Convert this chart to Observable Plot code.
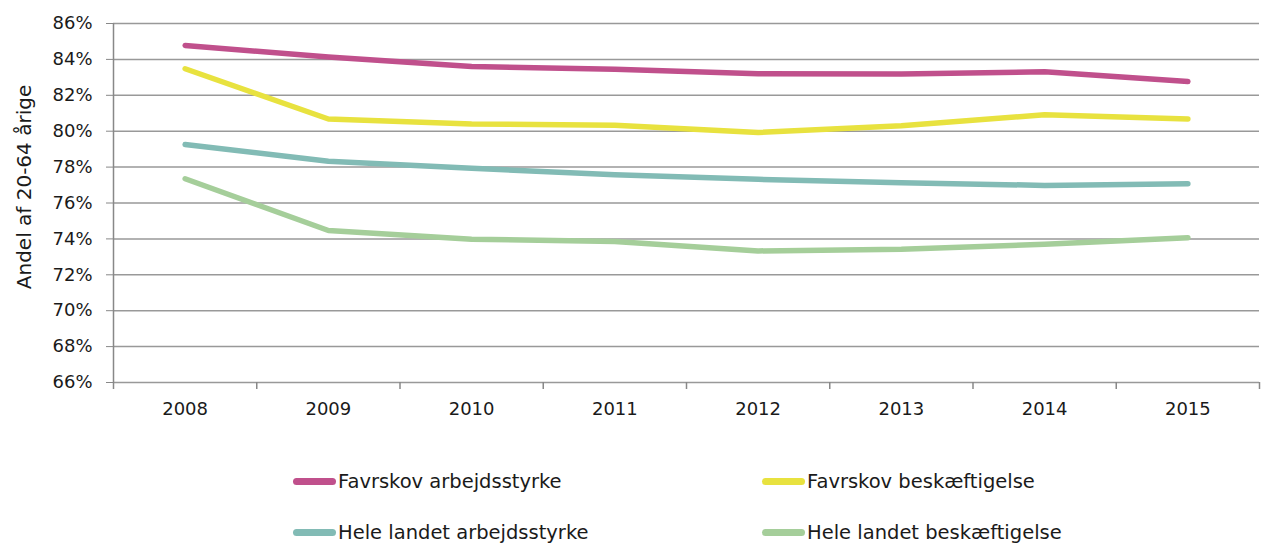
<!DOCTYPE html>
<html>
<head>
<meta charset="utf-8">
<script src="https://cdn.jsdelivr.net/npm/d3@7"></script>
<script src="https://cdn.jsdelivr.net/npm/@observablehq/plot@0.6"></script>
<style>
  html, body { margin: 0; padding: 0; background: #fff; }
  body { width: 1261px; height: 545px; overflow: hidden; font-family: "DejaVu Sans", sans-serif; color: #1a1a1a; }
  #legend { position: relative; height: 105px; font-size: 19.5px; }
  .item { position: absolute; display: flex; align-items: center; white-space: nowrap; }
  .sw { width: 43px; height: 7px; border-radius: 3.5px; margin-right: 2px; }
</style>
</head>
<body>
<div id="chart"></div>
<div id="legend"></div>
<script>
const years = [2008, 2009, 2010, 2011, 2012, 2013, 2014, 2015];
const seriesNames = [
  "Favrskov arbejdsstyrke",
  "Favrskov beskæftigelse",
  "Hele landet arbejdsstyrke",
  "Hele landet beskæftigelse"
];
const favrskovArbejdsstyrke = [84.78, 84.13, 83.61, 83.45, 83.20, 83.18, 83.31, 82.77];
const favrskovBeskaeftigelse = [83.48, 80.68, 80.40, 80.33, 79.93, 80.30, 80.92, 80.68];
const heleLandetArbejdsstyrke = [79.26, 78.33, 77.93, 77.57, 77.32, 77.13, 76.98, 77.07];
const heleLandetBeskaeftigelse = [77.35, 74.47, 73.98, 73.86, 73.33, 73.42, 73.70, 74.07];
const yTicks = [66, 68, 70, 72, 74, 76, 78, 80, 82, 84, 86];
const yLabel = "Andel af 20-64 årige";
const colors = ["#C0508C", "#E8E23F", "#82BBB5", "#A5CE9A"];

const allSeries = [favrskovArbejdsstyrke, favrskovBeskaeftigelse, heleLandetArbejdsstyrke, heleLandetBeskaeftigelse];
const data = [];
allSeries.forEach((vals, i) => vals.forEach((v, j) => data.push({series: seriesNames[i], year: years[j], value: v})));

const bounds = d3.range(years.length + 1).map(i => years[0] - 0.5 + i);

const chart = Plot.plot({
  width: 1261,
  height: 440,
  marginLeft: 113,
  marginRight: 2,
  marginTop: 23,
  marginBottom: 58,
  style: {fontFamily: "DejaVu Sans, sans-serif", fontSize: "17px", color: "#1a1a1a", background: "#fff"},
  x: {domain: [years[0] - 0.5, years[years.length - 1] + 0.5]},
  y: {domain: [66, 86]},
  color: {domain: seriesNames, range: colors},
  marks: [
    Plot.gridY(yTicks, {stroke: "#999", strokeOpacity: 1, strokeWidth: 1.5}),
    Plot.ruleX([years[0] - 0.5], {y1: 66, y2: 86, stroke: "#888", strokeWidth: 1.5}),
    Plot.axisY(yTicks, {tickSize: 7, tickPadding: 14, stroke: "#888", tickFormat: d => d + "%", label: null, fontSize: 18}),
    Plot.axisX(bounds, {tickSize: 7, tickFormat: () => "", stroke: "#888", strokeWidth: 1.5, label: null}),
    Plot.axisX(years, {tickSize: 0, tickPadding: 20, tickFormat: d => String(d), label: null, fontSize: 18}),
    Plot.line(data, {x: "year", y: "value", z: "series", stroke: "series", strokeWidth: 5.5, strokeLinecap: "round", strokeLinejoin: "round"}),
    Plot.text([yLabel], {frameAnchor: "left", textAnchor: "middle", dx: -89, dy: -16, rotate: -90, fontSize: 20})
  ]
});
document.getElementById("chart").appendChild(chart);

const legend = document.getElementById("legend");
const pos = [[293, 41], [762, 41], [293, 92], [762, 92]];
seriesNames.forEach((name, i) => {
  const el = document.createElement("div");
  el.className = "item";
  el.style.left = pos[i][0] + "px";
  el.style.top = (pos[i][1] - 12) + "px";
  el.style.height = "24px";
  el.innerHTML = `<div class="sw" style="background:${colors[i]}"></div><span>${name}</span>`;
  legend.appendChild(el);
});
</script>
</body>
</html>
